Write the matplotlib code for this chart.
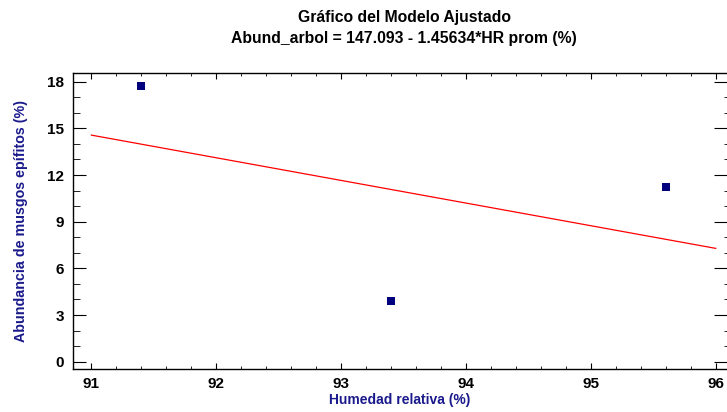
import matplotlib
matplotlib.use("Agg")
import matplotlib.pyplot as plt
import numpy as np

plt.rcParams['font.family'] = ['Liberation Sans', 'DejaVu Sans']

hr = [91.4, 93.4, 95.6]
abund = [17.75, 3.9, 11.25]
intercept = 147.093
slope = -1.45634
x_ticks = [91, 92, 93, 94, 95, 96]
y_ticks = [0, 3, 6, 9, 12, 15, 18]

fig = plt.figure(figsize=(7.27, 4.12), dpi=100)
ax = fig.add_axes([0.1, 0.1044, 0.9, 0.7184])

xl = np.linspace(91, 96, 100)
ax.plot(xl, intercept + slope * xl, color='red', lw=0.9)
ax.scatter(hr, abund, marker='s', s=30, color='#00007f', zorder=3, linewidths=0)

ax.set_xlim(90.85, 96.09)
ax.set_ylim(-0.47, 18.56)
ax.set_xticks(x_ticks)
ax.set_yticks(y_ticks)
ax.set_xticks(np.arange(91, 96.01, 0.2), minor=True)
ax.set_yticks(np.arange(0, 18.6, 1), minor=True)
ax.tick_params(which='both', direction='in', top=True, right=True, colors='black')
ax.tick_params(axis='x', which='major', length=4.3)
ax.tick_params(axis='x', which='minor', length=2.2)
ax.tick_params(axis='y', which='major', length=9.4)
ax.tick_params(axis='y', which='minor', length=5)
for t in ax.yaxis.get_major_ticks():
    t.tick2line.set_markersize(4.3)
for t in ax.yaxis.get_minor_ticks():
    t.tick2line.set_markersize(2.2)
for lab in ax.get_xticklabels() + ax.get_yticklabels():
    lab.set_fontweight('bold')
    lab.set_fontsize(11)
ax.tick_params(axis='x', pad=6)
ax.tick_params(axis='y', pad=6)
for s in ['left', 'bottom', 'top']:
    ax.spines[s].set_linewidth(1.0)
ax.spines['right'].set_visible(False)

ax.set_xlabel('Humedad relativa (%)', color='#1a1a8c', fontweight='bold', fontsize=10, labelpad=1)
ax.set_ylabel('Abundancia de musgos epífitos (%)', color='#1a1a8c', fontweight='bold', fontsize=10.3, labelpad=14)
fig.text(0.556, 0.958, 'Gráfico del Modelo Ajustado', ha='center', va='center', fontweight='bold', fontsize=11.3)
fig.text(0.556, 0.907, 'Abund_arbol = 147.093 - 1.45634*HR prom (%)', ha='center', va='center', fontweight='bold', fontsize=11.3)

fig.savefig('out.png', dpi=100)
